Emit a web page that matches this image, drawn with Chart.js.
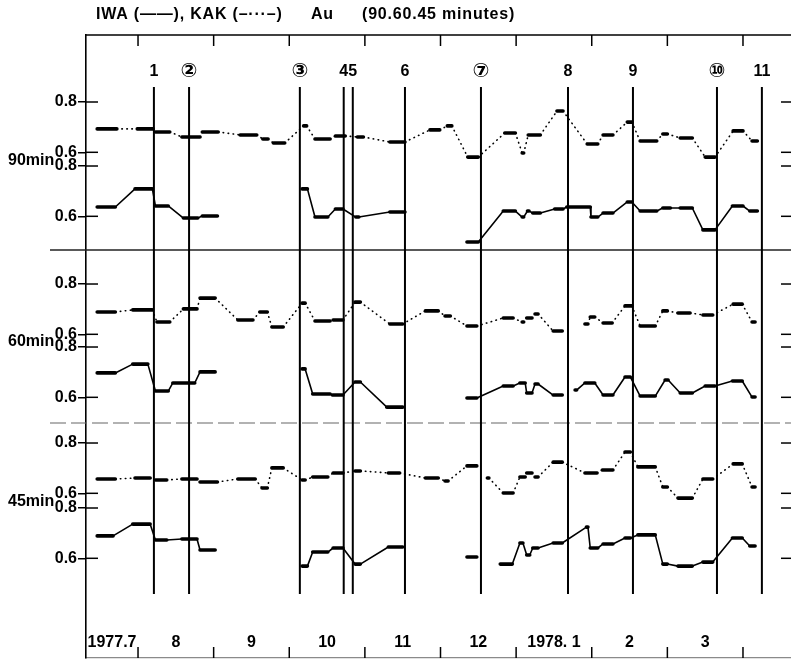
<!DOCTYPE html>
<html><head><meta charset="utf-8">
<script src="https://cdn.jsdelivr.net/npm/chart.js@4/dist/chart.umd.min.js"></script>
<style>html,body{margin:0;padding:0;background:#fff}canvas{display:block}</style>
</head><body>
<canvas id="c" width="791" height="659"></canvas>
<script>
// x values are calendar months as decimals: 8 = 1 Aug 1977, 13 = 1 Jan 1978, 16 = 1 Apr 1978
const monthStarts = [7, 8, 9, 10, 11, 12, 13, 14, 15];
const monthLabels = ['1977.7', '8', '9', '10', '11', '12', '1978. 1', '2', '3'];
const monthBoundaries = [8, 9, 10, 11, 12, 13, 14, 15, 16];
const eventMonths = [8.21, 8.675, 10.14, 10.72, 10.84, 11.53, 12.535, 13.686, 14.545, 15.656, 16.25];
const eventLabels = ['1', '②', '③', '4', '5', '6', '⑦', '8', '9', '⑩', '11'];
const panelNames = ['90min', '60min', '45min'];
const yTickValues = [0.6, 0.8];

// each series: plateaus (start month, end month, Au value); null = gap
const kak90Start = [7.46,7.99,8.23,8.58,8.85,9.35,9.65,9.79,10.19,10.34,10.61,10.90,11.33,11.86,12.09,12.36,12.85,13.08,13.16,13.54,13.94,14.15,14.47,14.64,14.94,15.17,15.50,15.87,16.12];
const kak90End   = [7.72,8.20,8.42,8.82,9.06,9.57,9.72,9.94,10.23,10.54,10.74,10.98,11.53,11.99,12.15,12.50,12.99,13.10,13.32,13.62,14.08,14.28,14.53,14.86,15.00,15.33,15.63,16.00,16.19];
const kak90Value = [.693,.693,.681,.661,.681,.669,.653,.637,.705,.653,.665,.661,.641,.689,.705,.581,.677,.597,.669,.764,.633,.669,.720,.645,.673,.657,.581,.685,.645];

const iwa90Start = [7.46,7.96,8.23,8.60,8.85,null,10.17,10.34,10.61,10.88,11.33,null,12.35,12.83,13.08,13.15,13.22,13.51,13.67,13.99,14.15,14.47,14.64,14.94,15.17,15.47,15.86,16.09];
const iwa90End   = [7.70,8.19,8.40,8.79,9.05,null,10.24,10.51,10.71,10.92,11.53,null,12.50,12.99,13.10,13.17,13.32,13.62,13.98,14.08,14.28,14.53,14.86,15.04,15.33,15.63,16.00,16.19];
const iwa90Value = [.637,.709,.641,.593,.601,null,.709,.597,.629,.597,.617,null,.498,.621,.597,.621,.613,.629,.637,.597,.613,.657,.621,.633,.633,.546,.641,.621];

const kak60Start = [7.46,7.93,8.25,8.60,8.82,9.32,9.61,9.77,10.17,10.34,10.58,10.87,11.33,11.80,12.06,12.35,12.83,13.08,13.14,13.25,13.49,null,13.91,13.98,14.15,14.44,14.64,14.94,15.14,15.47,15.87,16.12];
const kak60End   = [7.70,8.19,8.42,8.78,9.02,9.52,9.71,9.92,10.21,10.54,10.71,10.94,11.50,11.97,12.13,12.48,12.96,13.10,13.21,13.29,13.61,null,13.95,14.04,14.27,14.53,14.84,15.00,15.30,15.60,15.99,16.16];
const kak60Value = [.689,.697,.649,.701,.744,.657,.689,.629,.724,.653,.657,.728,.641,.693,.673,.633,.665,.649,.665,.681,.613,null,.641,.669,.645,.713,.633,.693,.685,.677,.720,.649];

const iwa60Start = [7.46,7.93,8.23,8.46,8.82,null,10.17,10.31,10.57,10.87,11.29,null,12.35,12.83,13.05,13.14,13.25,13.49,null,13.78,13.91,14.15,14.44,14.64,14.97,15.17,15.50,15.86,16.12];
const iwa60End   = [7.70,8.13,8.40,8.75,9.02,null,10.21,10.54,10.71,10.94,11.50,null,12.48,12.96,13.12,13.21,13.29,13.61,null,13.80,14.04,14.28,14.51,14.84,15.01,15.33,15.63,15.99,16.16];
const iwa60Value = [.697,.732,.625,.657,.701,null,.713,.613,.609,.661,.561,null,.597,.645,.657,.617,.653,.609,null,.629,.657,.609,.681,.605,.669,.617,.645,.665,.601];

const kak45Start = [7.46,7.96,8.23,8.58,8.82,9.32,9.64,9.77,10.17,10.31,10.58,10.87,11.31,11.80,12.06,12.35,null,12.62,12.83,13.05,13.14,13.25,13.49,13.91,14.14,14.44,14.61,14.94,15.14,15.47,15.87,16.12];
const kak45End   = [7.70,8.16,8.38,8.78,9.05,9.55,9.71,9.92,10.21,10.51,10.71,10.94,11.46,11.97,12.10,12.48,null,12.64,12.96,13.12,13.21,13.29,13.61,14.07,14.28,14.51,14.84,15.00,15.33,15.60,15.99,16.16];
const kak45Value = [.657,.661,.653,.657,.645,.657,.621,.701,.653,.665,.681,.689,.681,.661,.649,.709,null,.661,.601,.665,.681,.665,.724,.681,.693,.764,.705,.625,.581,.657,.717,.625];

const iwa45Start = [7.46,7.93,8.23,8.58,8.82,null,10.17,10.31,10.58,10.87,11.31,null,12.35,null,12.79,13.05,13.14,13.22,13.49,13.93,13.98,14.15,14.44,14.61,14.94,15.14,15.47,15.86,16.09];
const iwa45End   = [7.67,8.16,8.38,8.78,9.02,null,10.24,10.51,10.71,10.94,11.50,null,12.48,null,12.95,13.09,13.18,13.29,13.61,13.95,14.08,14.28,14.51,14.84,15.00,15.33,15.60,15.99,16.16];
const iwa45Value = [.689,.736,.673,.677,.633,null,.569,.625,.641,.577,.645,null,.605,null,.577,.661,.613,.641,.661,.724,.641,.657,.681,.693,.577,.569,.585,.681,.649];

// ---- layout (virtual stacking axis: each series is shifted into its band) ----
const X_MIN = 7.312, X_MAX = 16.635;
const Y_MIN = -1.4107, Y_MAX = 1.0664;
const seriesDefs = [
  {name: 'KAK 90min', s: kak90Start, e: kak90End, v: kak90Value, off: 0,       kak: true},
  {name: 'IWA 90min', s: iwa90Start, e: iwa90End, v: iwa90Value, off: -0.2545, kak: false},
  {name: 'KAK 60min', s: kak60Start, e: kak60End, v: kak60Value, off: -0.7237, kak: true},
  {name: 'IWA 60min', s: iwa60Start, e: iwa60End, v: iwa60Value, off: -0.9742, kak: false},
  {name: 'KAK 45min', s: kak45Start, e: kak45End, v: kak45Value, off: -1.3559, kak: true},
  {name: 'IWA 45min', s: iwa45Start, e: iwa45End, v: iwa45Value, off: -1.6143, kak: false}
];
const separators = [0.2115, -0.4763];
const eventSpan = [0.8596, -1.1563];
const FONT = "'Liberation Sans', 'DejaVu Sans', sans-serif";

function buildPoints(d) {
  const pts = [];
  let lastX = d.s[0];
  for (let i = 0; i < d.v.length; i++) {
    if (d.v[i] === null) { pts.push({x: lastX, y: null}, {x: lastX, y: null}); continue; }
    pts.push({x: d.s[i], y: d.v[i] + d.off}, {x: d.e[i], y: d.v[i] + d.off});
    lastX = d.e[i];
  }
  return pts;
}

const datasets = seriesDefs.map(d => ({
  label: d.name,
  data: buildPoints(d),
  borderColor: '#000',
  pointRadius: 0,
  borderWidth: 1.3,
  tension: 0,
  spanGaps: false,
  borderCapStyle: 'round',
  borderJoinStyle: 'round',
  segment: {
    borderWidth: c => c.p0DataIndex % 2 === 0 ? 3.6 : (d.kak ? 1.6 : 1.6),
    borderDash: c => c.p0DataIndex % 2 === 0 ? [] : (d.kak ? [0.5, 4.5] : [])
  }
}));

const yTicks = [];
seriesDefs.forEach(d => yTickValues.forEach(v => yTicks.push({value: v + d.off, txt: v.toFixed(1)})));
yTicks.sort((a, b) => a.value - b.value);

function seg(ctx, x1, y1, x2, y2) { ctx.beginPath(); ctx.moveTo(x1, y1); ctx.lineTo(x2, y2); ctx.stroke(); }

const decor = {
  id: 'decor',
  beforeDatasetsDraw(chart) {
    const {ctx, chartArea: a, scales: {x, y}} = chart;
    ctx.save();
    separators.forEach((v, i) => {
      ctx.strokeStyle = i === 0 ? '#222' : '#666';
      ctx.lineWidth = i === 0 ? 1.6 : 1.2;
      ctx.setLineDash(i === 0 ? [] : [16, 5]);
      const py = y.getPixelForValue(v);
      seg(ctx, a.left - 36, py, a.right, py);
    });
    ctx.setLineDash([]);
    ctx.strokeStyle = '#000'; ctx.lineWidth = 2;
    const t = y.getPixelForValue(eventSpan[0]), b = y.getPixelForValue(eventSpan[1]);
    eventMonths.forEach(m => { const px = x.getPixelForValue(m); seg(ctx, px, t, px, b); });
    ctx.restore();
  },
  afterDraw(chart) {
    const {ctx, chartArea: a, scales: {x, y}} = chart;
    ctx.save();
    ctx.strokeStyle = '#000';
    ctx.lineWidth = 1.6;
    seg(ctx, a.left, a.top, a.right, a.top);
    ctx.lineWidth = 1.5;
    monthBoundaries.forEach(m => {
      const px = x.getPixelForValue(m);
      seg(ctx, px, a.top, px, a.top + 11);
      seg(ctx, px, a.bottom - 11, px, a.bottom);
    });
    yTicks.forEach(t => {
      const py = y.getPixelForValue(t.value);
      seg(ctx, a.left, py, a.left + 12, py);
      seg(ctx, a.right - 10, py, a.right, py);
    });
    ctx.fillStyle = '#000';
    ctx.textAlign = 'center'; ctx.textBaseline = 'middle';
    const t = y.getPixelForValue(eventSpan[0]);
    eventMonths.forEach((m, i) => {
      const circled = /[②③⑦⑩]/.test(eventLabels[i]);
      ctx.font = circled ? "bold 20px 'DejaVu Sans', sans-serif" : 'bold 16px ' + FONT;
      ctx.fillText(eventLabels[i], x.getPixelForValue(m), t - 15);
    });
    ctx.font = 'bold 16px ' + FONT;
    ctx.textAlign = 'left';
    panelNames.forEach((n, p) => {
      const k = seriesDefs[2 * p], w = seriesDefs[2 * p + 1];
      const py = (y.getPixelForValue(0.6 + k.off) + y.getPixelForValue(0.8 + w.off)) / 2;
      ctx.fillText(n, 8, py + 1);
    });
    ctx.font = 'bold 16px ' + FONT;
    ctx.letterSpacing = '0.8px';
    ctx.fillText('IWA (——), KAK (–···–)', 96, 15);
    ctx.fillText('Au', 311, 15);
    ctx.fillText('(90.60.45 minutes)', 362, 15);
    ctx.restore();
  }
};

new Chart(document.getElementById('c'), {
  type: 'line',
  data: {datasets},
  plugins: [decor],
  options: {
    responsive: false,
    animation: false,
    devicePixelRatio: 1,
    layout: {padding: {top: 35, bottom: 1, left: 0, right: 0}},
    plugins: {legend: {display: false}, tooltip: {enabled: false}, title: {display: false}},
    scales: {
      x: {
        type: 'linear', min: X_MIN, max: X_MAX, position: 'bottom',
        afterBuildTicks: s => {
          s.ticks = monthStarts.map(m => ({value: (Math.max(m, X_MIN) + Math.min(m + 1, X_MAX)) / 2}));
        },
        afterFit: s => { s.height = 0; s.paddingLeft = 0; s.paddingRight = 0; s.paddingTop = 0; s.paddingBottom = 0; },
        ticks: {
          autoSkip: false, maxRotation: 0, minRotation: 0, mirror: true, padding: 6,
          color: '#000', font: {family: FONT, size: 16, weight: 'bold'},
          callback: (v, i) => monthLabels[i]
        },
        grid: {display: false},
        border: {display: true, color: '#8a8a8a', width: 1.2, dash: [14, 4]}
      },
      y: {
        type: 'linear', min: Y_MIN, max: Y_MAX, position: 'left',
        afterBuildTicks: s => { s.ticks = yTicks.map(t => ({value: t.value, txt: t.txt})); },
        afterFit: s => { s.width = 86; s.paddingTop = 0; s.paddingBottom = 0; s.paddingLeft = 0; s.paddingRight = 0; },
        ticks: {
          autoSkip: false, padding: 1, color: '#000',
          font: {family: FONT, size: 16, weight: 'bold'},
          callback: (v, i, ts) => ts[i].txt
        },
        grid: {display: true, drawOnChartArea: false, drawTicks: true, tickLength: 8, color: '#000', lineWidth: 1.5},
        border: {display: true, color: '#000', width: 1.6}
      }
    }
  }
});
</script>
</body></html>
